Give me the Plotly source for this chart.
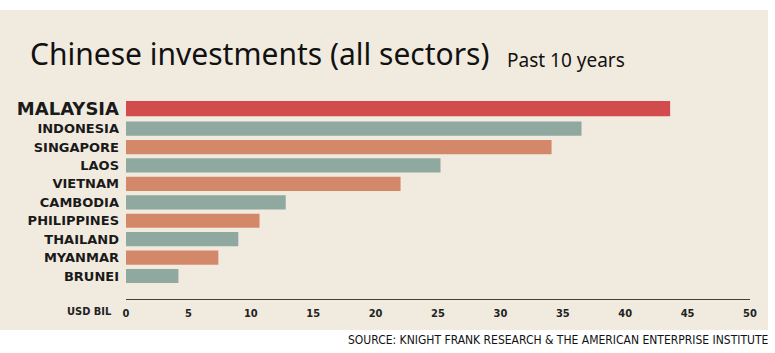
import plotly.graph_objects as go

countries = ["MALAYSIA", "INDONESIA", "SINGAPORE", "LAOS", "VIETNAM",
             "CAMBODIA", "PHILIPPINES", "THAILAND", "MYANMAR", "BRUNEI"]
values = [43.6, 36.5, 34.1, 25.2, 22.0, 12.8, 10.7, 9.0, 7.4, 4.2]
colors = ["#D24C4E", "#8FA8A0", "#D4886A", "#8FA8A0", "#D4886A",
          "#8FA8A0", "#D4886A", "#8FA8A0", "#D4886A", "#8FA8A0"]
x_ticks = [0, 5, 10, 15, 20, 25, 30, 35, 40, 45, 50]

# bottom-to-top order for plotting
cats = countries[::-1]
vals = values[::-1]
cols = colors[::-1]
widths = [0.93 if c == "MALAYSIA" else 0.77 for c in cats]
offsets = [-0.33 if c == "MALAYSIA" else -0.385 for c in cats]

ticktext = []
for c in cats:
    if c == "MALAYSIA":
        ticktext.append("<span style='font-size:18px'>" + c + "</span>")
    else:
        ticktext.append(c)

fig = go.Figure()
fig.add_trace(go.Bar(
    x=vals, y=cats, orientation="h",
    marker=dict(color=cols, line=dict(width=0)),
    width=widths, offset=offsets,
    hoverinfo="x+y",
))

fig.update_layout(
    width=775, height=353,
    margin=dict(l=126, r=25, t=101, b=54),
    paper_bgcolor="white",
    plot_bgcolor="rgba(0,0,0,0)",
    showlegend=False,
    shapes=[dict(type="rect", xref="paper", yref="paper",
                 x0=-126/624, x1=(768-126)/624,
                 y0=-(330-299)/198, y1=(299-10)/198,
                 fillcolor="#F1EBDF", line=dict(width=0), layer="below")],
    annotations=[
        dict(text="Chinese investments (all sectors)", xref="paper", yref="paper",
             x=(28-126)/624, y=(299-54)/198, xanchor="left", yanchor="middle",
             showarrow=False, font=dict(family="Noto Sans", size=30, color="#111111")),
        dict(text="Past 10 years", xref="paper", yref="paper",
             x=(505-126)/624, y=(299-60)/198, xanchor="left", yanchor="middle",
             showarrow=False, font=dict(family="Noto Sans", size=19, color="#111111")),
        dict(text="<b>USD BIL</b>", xref="paper", yref="paper",
             x=(114-126)/624, y=-(311-299)/198, xanchor="right", yanchor="middle",
             showarrow=False, font=dict(family="DejaVu Sans Condensed", size=11, color="#222222")),
        dict(text="SOURCE: KNIGHT FRANK RESEARCH & THE AMERICAN ENTERPRISE INSTITUTE",
             xref="paper", yref="paper",
             x=(770-126)/624, y=-(340-299)/198, xanchor="right", yanchor="middle",
             showarrow=False, font=dict(family="DejaVu Sans Condensed", size=12, color="#111111")),
    ],
)

fig.update_xaxes(
    range=[0, 50], tickvals=x_ticks, ticktext=[str(t) for t in x_ticks],
    showgrid=False, zeroline=False,
    showline=True, linecolor="#4A3C34", linewidth=1.2,
    ticks="", ticklabelstandoff=4,
    tickfont=dict(family="DejaVu Sans Condensed", size=11, color="#222222", weight="bold"),
)
fig.update_yaxes(
    type="category", categoryorder="array", categoryarray=cats,
    tickvals=cats, ticktext=ticktext,
    range=[-1.25, 9.5],
    showgrid=False, zeroline=False, showline=False, ticks="",
    ticklabelstandoff=6,
    tickfont=dict(family="DejaVu Sans", size=13, color="#1A1A1A", weight="bold"),
)

fig.write_html("out.html")
